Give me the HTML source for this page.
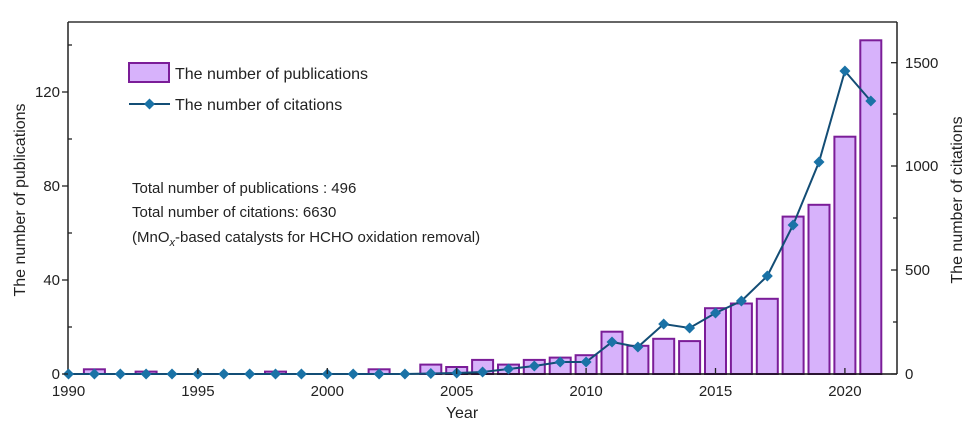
<!DOCTYPE html>
<html><head><meta charset="utf-8"><style>
html,body{margin:0;padding:0;background:#fff;}
svg{display:block;font-family:"Liberation Sans",Arial,sans-serif;}
</style></head><body>
<svg width="970" height="428" viewBox="0 0 970 428" xmlns="http://www.w3.org/2000/svg">
<defs>
<marker id="d" viewBox="-6 -6 12 12" markerWidth="12" markerHeight="12" refX="0" refY="0" markerUnits="userSpaceOnUse">
<polygon points="0,-5.5 5.5,0 0,5.5 -5.5,0" fill="#1a72a6"/>
</marker>
</defs>
<!-- frame -->
<line x1="68" y1="22" x2="897" y2="22" stroke="#333" stroke-width="1.5"/>
<line x1="68" y1="22" x2="68" y2="374" stroke="#222" stroke-width="1.5"/>
<line x1="897" y1="22" x2="897" y2="374" stroke="#222" stroke-width="1.5"/>
<!-- bars -->
<g fill="#d7b2fb" stroke="#7b1d98" stroke-width="2">
<rect x="83.9" y="369.3" width="21" height="4.7"/>
<rect x="135.6" y="371.6" width="21" height="2.4"/>
<rect x="265" y="371.6" width="21" height="2.4"/>
<rect x="368.6" y="369.3" width="21" height="4.7"/>
<rect x="420.3" y="364.6" width="21" height="9.4"/>
<rect x="446.2" y="367" width="21" height="7"/>
<rect x="472.1" y="359.9" width="21" height="14.1"/>
<rect x="498" y="364.6" width="21" height="9.4"/>
<rect x="523.8" y="359.9" width="21" height="14.1"/>
<rect x="549.7" y="357.6" width="21" height="16.4"/>
<rect x="575.6" y="355.2" width="21" height="18.8"/>
<rect x="601.5" y="331.7" width="21" height="42.3"/>
<rect x="627.4" y="345.8" width="21" height="28.2"/>
<rect x="653.2" y="338.8" width="21" height="35.2"/>
<rect x="679.1" y="341.1" width="21" height="32.9"/>
<rect x="705" y="308.2" width="21" height="65.8"/>
<rect x="730.9" y="303.5" width="21" height="70.5"/>
<rect x="756.8" y="298.8" width="21" height="75.2"/>
<rect x="782.6" y="216.6" width="21" height="157.4"/>
<rect x="808.5" y="204.8" width="21" height="169.2"/>
<rect x="834.4" y="136.7" width="21" height="237.3"/>
<rect x="860.3" y="40.3" width="21" height="333.7"/>
</g>
<!-- baseline -->
<line x1="68" y1="374" x2="897" y2="374" stroke="#111" stroke-width="1.5"/>
<!-- citations -->
<polyline fill="none" stroke="#134d75" stroke-width="2" marker-start="url(#d)" marker-mid="url(#d)" marker-end="url(#d)"
points="68.5,374 94.4,374 120.3,374 146.1,374 172,374 197.9,374 223.8,374 249.7,374 275.5,374 301.4,374 327.3,374 353.2,374 379.1,374 404.9,374 430.8,373.5 456.7,373 482.6,372 508.5,369 534.3,366 560.2,362 586.1,362 612,342 637.9,347 663.7,324 689.6,328 715.5,313 741.4,301 767.3,276 793.1,225 819,162 844.9,71 870.8,101"/>
<!-- left ticks -->
<g stroke="#222" stroke-width="1.3">
<line x1="62" y1="374" x2="68" y2="374"/><line x1="62" y1="280" x2="68" y2="280"/><line x1="62" y1="186" x2="68" y2="186"/><line x1="62" y1="92" x2="68" y2="92"/>
<line x1="68" y1="327" x2="72" y2="327"/><line x1="68" y1="233" x2="72" y2="233"/><line x1="68" y1="139" x2="72" y2="139"/><line x1="68" y1="45" x2="72" y2="45"/>
<!-- right ticks -->
<line x1="891" y1="374" x2="897" y2="374"/><line x1="891" y1="270" x2="897" y2="270"/><line x1="891" y1="166" x2="897" y2="166"/><line x1="891" y1="62.7" x2="897" y2="62.7"/>
<line x1="893" y1="322" x2="897" y2="322"/><line x1="893" y1="218" x2="897" y2="218"/><line x1="893" y1="114" x2="897" y2="114"/>
<!-- x ticks -->
<line x1="197.9" y1="374" x2="197.9" y2="368"/><line x1="327.3" y1="374" x2="327.3" y2="368"/><line x1="456.7" y1="374" x2="456.7" y2="368"/><line x1="586.1" y1="374" x2="586.1" y2="368"/><line x1="715.5" y1="374" x2="715.5" y2="368"/><line x1="844.9" y1="374" x2="844.9" y2="368"/>
</g>
<g font-size="15" fill="#222">
<g text-anchor="end">
<text x="60" y="379">0</text><text x="60" y="285">40</text><text x="60" y="191">80</text><text x="60" y="97">120</text>
</g>
<text x="905" y="379">0</text><text x="905" y="275">500</text><text x="905" y="171">1000</text><text x="905" y="68">1500</text>
<g text-anchor="middle">
<text x="68.5" y="396">1990</text><text x="197.9" y="396">1995</text><text x="327.3" y="396">2000</text><text x="456.7" y="396">2005</text><text x="586.1" y="396">2010</text><text x="715.5" y="396">2015</text><text x="844.9" y="396">2020</text>
</g>
<text x="462" y="418" text-anchor="middle" font-size="16">Year</text>
<text transform="translate(25,200) rotate(-90)" text-anchor="middle" font-size="16">The number of publications</text>
<text transform="translate(962,200) rotate(-90)" text-anchor="middle" font-size="16">The number of citations</text>
<!-- legend -->
<rect x="129" y="63" width="40" height="19" fill="#d7b2fb" stroke="#7b1d98" stroke-width="2"/>
<text x="175" y="79" font-size="16">The number of publications</text>
<line x1="129" y1="104" x2="170" y2="104" stroke="#134d75" stroke-width="2"/>
<polygon points="149.5,98.5 155,104 149.5,109.5 144,104" fill="#1a72a6"/>
<text x="175" y="110" font-size="16">The number of citations</text>
<text x="132" y="193">Total number of publications : 496</text>
<text x="132" y="217">Total number of citations: 6630</text>
<text x="132" y="242">(MnO<tspan font-size="11" dy="4" font-style="italic">x</tspan><tspan dy="-4">-based catalysts for HCHO oxidation removal)</tspan></text>
</g>
</svg>
</body></html>
